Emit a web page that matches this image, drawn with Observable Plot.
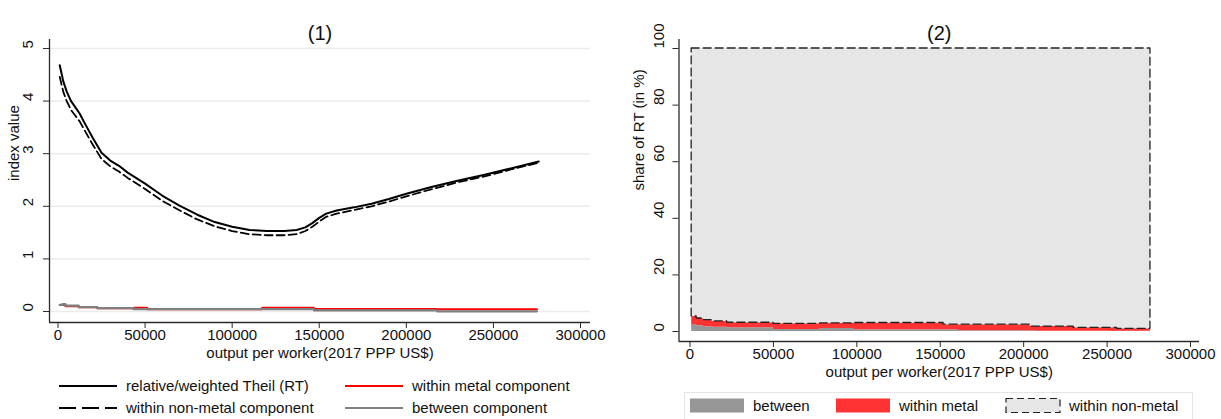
<!DOCTYPE html>
<html>
<head>
<meta charset="utf-8">
<script src="https://cdn.jsdelivr.net/npm/d3@7"></script>
<script src="https://cdn.jsdelivr.net/npm/@observablehq/plot@0.6"></script>
<style>
  body { margin: 0; background: #fff; }
  #wrap { position: relative; width: 1221px; height: 419px; overflow: hidden; background: #fff; }
  #wrap svg { position: absolute; }
</style>
</head>
<body>
<div id="wrap"></div>
<script>
const FONT = '"Liberation Sans", Arial, Helvetica, sans-serif';

// ---- tick labels ----
const xTicks = [0, 50000, 100000, 150000, 200000, 250000, 300000];
const yTicksIndex = [0, 1, 2, 3, 4, 5];
const yTicksShare = [0, 20, 40, 60, 80, 100];

// ---- panel (1): index values ----
const rtX = [1000, 3000, 5000, 7500, 10000, 12500, 15000, 20000, 25000, 30000, 35000, 40000, 50000, 60000, 70000, 80000, 90000, 100000, 110000, 120000, 130000, 137000, 142000, 146000, 150000, 154000, 160000, 170000, 180000, 190000, 200000, 215000, 230000, 245000, 260000, 276000];
const rtValues = [4.68, 4.38, 4.18, 4.00, 3.88, 3.76, 3.60, 3.30, 3.02, 2.87, 2.77, 2.64, 2.43, 2.20, 2.01, 1.84, 1.70, 1.61, 1.55, 1.53, 1.53, 1.55, 1.60, 1.68, 1.78, 1.86, 1.92, 1.98, 2.05, 2.14, 2.24, 2.37, 2.49, 2.60, 2.72, 2.85];
const nonMetalValues = [4.46, 4.18, 4.00, 3.83, 3.72, 3.61, 3.46, 3.17, 2.90, 2.76, 2.66, 2.54, 2.33, 2.10, 1.92, 1.75, 1.62, 1.53, 1.47, 1.45, 1.45, 1.47, 1.53, 1.61, 1.71, 1.80, 1.86, 1.93, 2.00, 2.09, 2.19, 2.33, 2.46, 2.57, 2.70, 2.83];

const metalX = [1000, 4300, 11900, 22500, 43500, 51200, 117200, 146900, 217700, 275000];
const metalValues = [0.125, 0.10, 0.08, 0.06, 0.07, 0.045, 0.07, 0.05, 0.045, 0.045];

const betweenX = [1000, 2500, 4300, 11900, 22500, 43500, 146900, 217700, 275000];
const betweenValues = [0.125, 0.14, 0.11, 0.085, 0.065, 0.045, 0.022, 0.004, 0.004];

// ---- panel (2): shares of RT in % ----
const shareX = [1000, 4000, 8000, 13000, 22300, 50000, 78000, 98000, 152000, 161000, 204000, 208000, 230000, 256000, 276000];
const shareBetween = [2.5, 2.0, 1.7, 1.5, 1.3, 0.7, 1.1, 0.6, 0.6, 0.3, 0.3, 0.05, 0.05, 0.05, 0.05];
const shareMetal = [2.8, 2.6, 2.3, 2.1, 1.8, 2.0, 1.8, 2.4, 1.8, 2.1, 1.45, 1.7, 1.25, 0.9, 0.9];
const shareNonMetal = [94.7, 95.4, 96.0, 96.4, 96.9, 97.3, 97.1, 97.0, 97.6, 97.6, 98.25, 98.25, 98.7, 99.05, 99.05];

// ---- colours ----
const RED = "#ff0000", GREY = "#808080";
const FILL_BETWEEN = "#969696", FILL_METAL = "#ff3333", FILL_NONMETAL = "#e6e6e6";
const AXIS = "#2a2a2a";
const FS = 15;
const TFS = 20;

const wrap = document.getElementById("wrap");

// ===== Panel 1 =====
const rtRows = rtX.map((x, i) => ({x, y: rtValues[i]}));
const nmRows = rtX.map((x, i) => ({x, y: nonMetalValues[i]}));
const metRows = metalX.map((x, i) => ({x, y: metalValues[i]}));
const betRows = betweenX.map((x, i) => ({x, y: betweenValues[i]}));

const x1Dom = [-4880, 305742], y1Dom = [-0.209, 5.171];
const p1 = Plot.plot({
  width: 610, height: 370,
  marginLeft: 49, marginRight: 20, marginTop: 39, marginBottom: 48,
  x: {domain: x1Dom, label: null},
  y: {domain: y1Dom, label: null},
  style: {fontFamily: FONT, fontSize: FS + "px", color: "#111", background: "transparent", overflow: "visible"},
  marks: [
    Plot.ruleY(yTicksIndex, {y: d => d, stroke: "#ebebeb", strokeWidth: 1.5}),
    Plot.line(rtRows, {x: "x", y: "y", stroke: "#000", strokeWidth: 2, curve: "linear"}),
    Plot.line(nmRows, {x: "x", y: "y", stroke: "#000", strokeWidth: 1.8, strokeDasharray: "8,4"}),
    Plot.line(metRows, {x: "x", y: "y", stroke: RED, strokeWidth: 2, curve: "step-after"}),
    Plot.line(betRows, {x: "x", y: "y", stroke: GREY, strokeWidth: 2.2, curve: "step-after"}),
    Plot.ruleX([x1Dom[0]], {x: d => d, stroke: AXIS, strokeWidth: 1.3}),
    Plot.ruleY([y1Dom[0]], {y: d => d, stroke: AXIS, strokeWidth: 1.3}),
    Plot.axisX(xTicks, {tickSize: 6, tickFormat: () => "", label: null, stroke: AXIS}),
    Plot.axisY(yTicksIndex, {tickSize: 6, tickFormat: () => "", label: null, stroke: AXIS}),
    Plot.text(xTicks, {x: d => d, text: d => String(d), frameAnchor: "bottom", dy: 17, fontSize: FS, fill: "#111"}),
    Plot.text(yTicksIndex, {y: d => d, text: d => String(d), frameAnchor: "left", dx: -21, rotate: -90, fontSize: FS, fill: "#111"}),
    Plot.text(["index value"], {frameAnchor: "left", dx: -35, rotate: -90, fontSize: FS, fill: "#111"}),
    Plot.text(["output per worker(2017 PPP US$)"], {frameAnchor: "bottom", dy: 35, fontSize: FS, fill: "#111"}),
    Plot.text(["(1)"], {frameAnchor: "top", dy: -14, fontSize: TFS, fill: "#111"})
  ]
});
p1.style.left = "0px"; p1.style.top = "0px";
wrap.appendChild(p1);

// ===== Panel 2 =====
const betArea = shareX.map((x, i) => ({x, y1: 0, y2: shareBetween[i]}));
const metArea = shareX.map((x, i) => ({x, y1: shareBetween[i], y2: shareBetween[i] + shareMetal[i]}));
const nmArea = shareX.map((x, i) => ({x, y1: shareBetween[i] + shareMetal[i], y2: shareBetween[i] + shareMetal[i] + shareNonMetal[i]}));

const x2Dom = [-6593, 305395], y2Dom = [-3.53, 103.18];
const p2 = Plot.plot({
  width: 611, height: 390,
  marginLeft: 68.5, marginRight: 22, marginTop: 39, marginBottom: 49,
  x: {domain: x2Dom, label: null},
  y: {domain: y2Dom, label: null},
  style: {fontFamily: FONT, fontSize: FS + "px", color: "#111", background: "transparent", overflow: "visible"},
  marks: [
    Plot.areaY(betArea, {x: "x", y1: "y1", y2: "y2", fill: FILL_BETWEEN, curve: "step-after"}),
    Plot.areaY(metArea, {x: "x", y1: "y1", y2: "y2", fill: FILL_METAL, curve: "step-after"}),
    Plot.areaY(nmArea, {x: "x", y1: "y1", y2: "y2", fill: FILL_NONMETAL, stroke: "#222", strokeWidth: 1.3, strokeDasharray: "8,4", curve: "step-after"}),
    Plot.ruleX([x2Dom[0]], {x: d => d, stroke: AXIS, strokeWidth: 1.3}),
    Plot.ruleY([y2Dom[0]], {y: d => d, stroke: AXIS, strokeWidth: 1.3}),
    Plot.axisX(xTicks, {tickSize: 6, tickFormat: () => "", label: null, stroke: AXIS}),
    Plot.axisY(yTicksShare, {tickSize: 6, tickFormat: () => "", label: null, stroke: AXIS}),
    Plot.text(xTicks, {x: d => d, text: d => String(d), frameAnchor: "bottom", dy: 17, fontSize: FS, fill: "#111"}),
    Plot.text(yTicksShare, {y: d => d, text: d => String(d), frameAnchor: "left", dx: -19.5, rotate: -90, fontSize: FS, fill: "#111"}),
    Plot.text(["share of RT (in %)"], {frameAnchor: "left", dx: -39.5, rotate: -90, fontSize: FS, fill: "#111"}),
    Plot.text(["output per worker(2017 PPP US$)"], {frameAnchor: "bottom", dy: 35, fontSize: FS, fill: "#111"}),
    Plot.text(["(2)"], {frameAnchor: "top", dy: -14, fontSize: TFS, fill: "#111"})
  ]
});
p2.style.left = "610px"; p2.style.top = "0px";
wrap.appendChild(p2);

// ===== Legends =====
const lg = d3.create("svg").attr("width", 1221).attr("height", 419)
  .style("left", "0px").style("top", "0px").style("font-family", FONT);

const leftItems = [
  {x: 59, y: 386, label: "relative/weighted Theil (RT)", stroke: "#000", dash: null, w: 2},
  {x: 345, y: 386, label: "within metal component", stroke: RED, dash: null, w: 2},
  {x: 59, y: 408, label: "within non-metal component", stroke: "#000", dash: "17,6", w: 2},
  {x: 345, y: 408, label: "between component", stroke: GREY, dash: null, w: 2.2}
];
for (const it of leftItems) {
  lg.append("line").attr("x1", it.x).attr("x2", it.x + 58).attr("y1", it.y).attr("y2", it.y)
    .attr("stroke", it.stroke).attr("stroke-width", it.w).attr("stroke-dasharray", it.dash);
  lg.append("text").attr("x", it.x + 67).attr("y", it.y).attr("dy", "0.35em")
    .attr("font-size", FS).attr("fill", "#111").text(it.label);
}

lg.append("rect").attr("x", 684.5).attr("y", 392.5).attr("width", 508).attr("height", 40)
  .attr("fill", "#fff").attr("stroke", "#e4e4e4");
const rightItems = [
  {x: 690, label: "between", fill: FILL_BETWEEN, dashed: false},
  {x: 836, label: "within metal", fill: FILL_METAL, dashed: false},
  {x: 1006, label: "within non-metal", fill: FILL_NONMETAL, dashed: true}
];
for (const it of rightItems) {
  const r = lg.append("rect").attr("x", it.x).attr("y", 398.5).attr("width", 54).attr("height", 14).attr("fill", it.fill);
  if (it.dashed) r.attr("stroke", "#222").attr("stroke-width", 1.2).attr("stroke-dasharray", "7,4");
  lg.append("text").attr("x", it.x + 63).attr("y", 406).attr("dy", "0.35em")
    .attr("font-size", FS).attr("fill", "#111").text(it.label);
}
wrap.appendChild(lg.node());
</script>
</body>
</html>
